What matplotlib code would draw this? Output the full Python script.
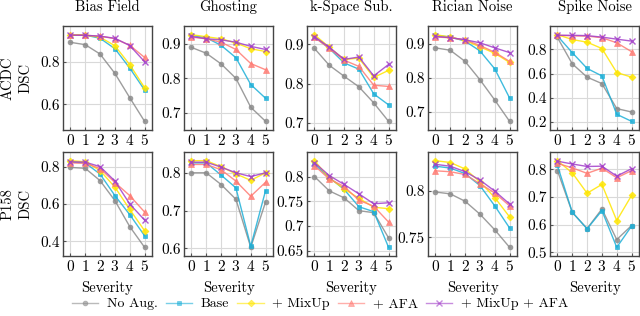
#DSC vs corruption severity, ACDC and P158, five augmentation settings

import matplotlib.pyplot as plt
from matplotlib.ticker import FormatStrFormatter

plt.rcParams['font.family'] = 'serif'
plt.rcParams['font.serif'] = ['cmr10']
plt.rcParams['mathtext.fontset'] = 'cm'
plt.rcParams['axes.formatter.use_mathtext'] = True
plt.rcParams['font.size'] = 10

severity = [0, 1, 2, 3, 4, 5]
corruptions = ['Bias Field', 'Ghosting', 'k-Space Sub.', 'Rician Noise', 'Spike Noise']
datasets = ['ACDC', 'P158']
methods = ['No Aug.', 'Base', '+ MixUp', '+ AFA', '+ MixUp + AFA']

#ACDC, one list per method, one row per corruption
acdc_noaug = [[0.891, 0.880, 0.836, 0.745, 0.631, 0.520],
              [0.890, 0.873, 0.842, 0.800, 0.716, 0.675],
              [0.890, 0.847, 0.819, 0.792, 0.751, 0.704],
              [0.888, 0.881, 0.848, 0.794, 0.734, 0.671],
              [0.897, 0.680, 0.570, 0.517, 0.311, 0.283]]
acdc_base = [[0.925, 0.925, 0.910, 0.861, 0.770, 0.667],
             [0.925, 0.918, 0.896, 0.860, 0.782, 0.742],
             [0.920, 0.890, 0.853, 0.837, 0.774, 0.746],
             [0.925, 0.920, 0.908, 0.879, 0.826, 0.740],
             [0.910, 0.772, 0.642, 0.580, 0.264, 0.206]]
acdc_mixup = [[0.927, 0.925, 0.915, 0.875, 0.786, 0.678],
              [0.927, 0.921, 0.915, 0.903, 0.886, 0.878],
              [0.925, 0.893, 0.862, 0.865, 0.816, 0.834],
              [0.927, 0.920, 0.910, 0.891, 0.872, 0.845],
              [0.920, 0.880, 0.858, 0.806, 0.608, 0.570]]
acdc_afa = [[0.925, 0.924, 0.920, 0.908, 0.877, 0.820],
            [0.920, 0.915, 0.905, 0.884, 0.843, 0.825],
            [0.918, 0.890, 0.860, 0.844, 0.796, 0.793],
            [0.920, 0.918, 0.912, 0.895, 0.875, 0.848],
            [0.915, 0.910, 0.908, 0.895, 0.853, 0.780]]
acdc_both = [[0.925, 0.924, 0.920, 0.910, 0.876, 0.800],
             [0.922, 0.915, 0.912, 0.905, 0.893, 0.884],
             [0.920, 0.893, 0.862, 0.868, 0.820, 0.849],
             [0.922, 0.918, 0.912, 0.903, 0.888, 0.874],
             [0.915, 0.915, 0.912, 0.900, 0.883, 0.867]]

#P158
p158_noaug = [[0.796, 0.791, 0.725, 0.618, 0.479, 0.368],
              [0.800, 0.800, 0.769, 0.730, 0.603, 0.723],
              [0.800, 0.771, 0.757, 0.731, 0.727, 0.676],
              [0.799, 0.797, 0.789, 0.775, 0.758, 0.739],
              [0.796, 0.645, 0.586, 0.657, 0.546, 0.597]]
p158_base = [[0.825, 0.820, 0.760, 0.645, 0.543, 0.430],
             [0.826, 0.826, 0.794, 0.760, 0.606, 0.753],
             [0.825, 0.798, 0.774, 0.739, 0.729, 0.657],
             [0.827, 0.825, 0.819, 0.806, 0.784, 0.760],
             [0.815, 0.645, 0.585, 0.651, 0.518, 0.595]]
p158_mixup = [[0.832, 0.826, 0.779, 0.690, 0.571, 0.457],
              [0.832, 0.832, 0.816, 0.797, 0.780, 0.800],
              [0.832, 0.797, 0.775, 0.756, 0.738, 0.735],
              [0.833, 0.831, 0.824, 0.810, 0.793, 0.772],
              [0.832, 0.788, 0.714, 0.746, 0.615, 0.706]]
p158_afa = [[0.820, 0.818, 0.790, 0.715, 0.645, 0.557],
            [0.822, 0.822, 0.808, 0.778, 0.738, 0.775],
            [0.822, 0.795, 0.780, 0.752, 0.740, 0.708],
            [0.822, 0.821, 0.818, 0.808, 0.798, 0.784],
            [0.822, 0.806, 0.786, 0.805, 0.770, 0.796]]
p158_both = [[0.826, 0.824, 0.800, 0.723, 0.600, 0.514],
             [0.828, 0.828, 0.815, 0.800, 0.790, 0.800],
             [0.828, 0.802, 0.784, 0.765, 0.745, 0.747],
             [0.829, 0.827, 0.821, 0.812, 0.800, 0.786],
             [0.830, 0.820, 0.811, 0.812, 0.776, 0.803]]

acdc_yticks = [[0.6, 0.8], [0.7, 0.8, 0.9], [0.7, 0.8, 0.9], [0.7, 0.8, 0.9], [0.2, 0.4, 0.6, 0.8]]
p158_yticks = [[0.4, 0.6, 0.8], [0.6, 0.7, 0.8], [0.65, 0.7, 0.75, 0.8], [0.75, 0.8], [0.5, 0.6, 0.7, 0.8]]

colors = ['#8c8c8c', '#1eb0d8', '#ffe600', '#ff7b73', '#a23fc9']
markers = ['o', 's', 'D', '^', 'x']
msizes = [3.5, 3.5, 3.5, 4.5, 5]

fig = plt.figure(figsize=(6.4, 3.16), dpi=100)

lefts = [63, 184, 307, 428, 550]
tops = [26, 152]
w, h = 89, 104

rows = [(acdc_noaug, acdc_base, acdc_mixup, acdc_afa, acdc_both),
        (p158_noaug, p158_base, p158_mixup, p158_afa, p158_both)]
yticks = [acdc_yticks, p158_yticks]

for r in range(2):
    for c in range(5):
        ax = fig.add_axes([lefts[c] / 640, 1 - (tops[r] + h) / 316, w / 640, h / 316])
        for m in range(5):
            ax.plot(severity, rows[r][m][c], color=colors[m], marker=markers[m],
                    markersize=msizes[m], linewidth=1, alpha=0.85,
                    markeredgewidth=1 if m == 4 else 0.5, label=methods[m])
        ax.margins(x=0.1, y=0.1)
        ax.set_xticks(severity)
        ax.set_yticks(yticks[r][c])
        ax.yaxis.set_major_formatter(FormatStrFormatter('%g'))
        ax.grid(True, color='#d9d9d9', linewidth=0.8)
        ax.set_axisbelow(True)
        ax.tick_params(direction='in', length=2, color='#555555', pad=2.5, labelsize=11)
        for s in ax.spines.values():
            s.set_color('#444444')
            s.set_linewidth(1)
        if r == 0:
            ax.set_title(corruptions[c], fontsize=10.5, pad=11)
        else:
            ax.set_xlabel('Severity', fontsize=10.5, labelpad=5)

for r in range(2):
    yc = 1 - (tops[r] + h / 2) / 316
    fig.text(8 / 640, yc, datasets[r], rotation=90, ha='center', va='center', fontsize=10.5)
    fig.text(26 / 640, yc, 'DSC', rotation=90, ha='center', va='center', fontsize=10.5)

handles, labels = ax.get_legend_handles_labels()
leg = fig.legend(handles, labels, loc='center', bbox_to_anchor=(0.5, 1 - 304 / 316), ncol=5,
                 frameon=False, fontsize=10, handlelength=1.9, columnspacing=0.6,
                 handletextpad=0.6)
for lh in leg.legend_handles:
    lh.set_alpha(0.6)

plt.savefig('out.png', dpi=100)
